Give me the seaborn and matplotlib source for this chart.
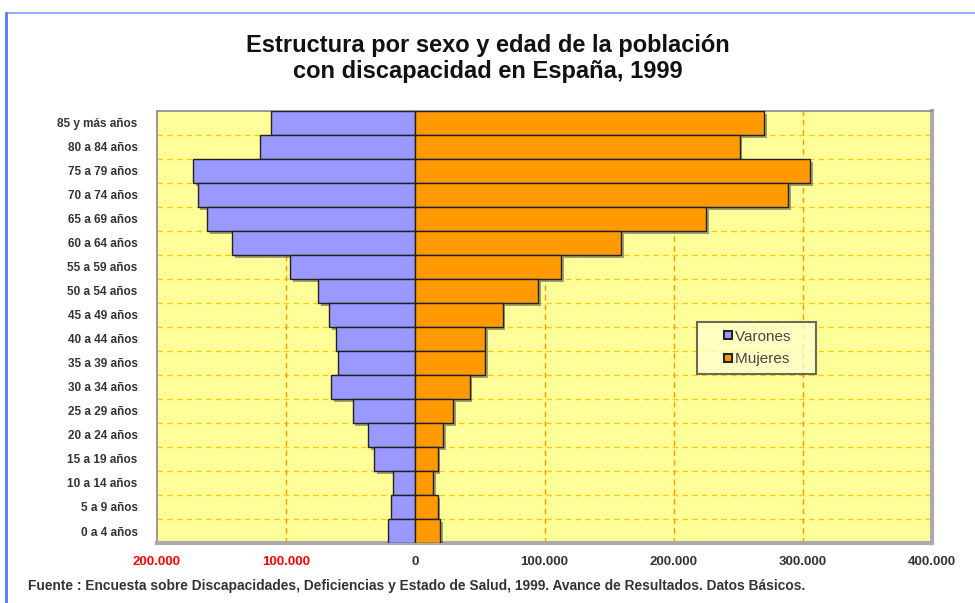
import numpy as np
import pandas as pd
import matplotlib
matplotlib.use("Agg")
import matplotlib.pyplot as plt
import matplotlib.patheffects as pe
from matplotlib.lines import Line2D
import seaborn as sns

# Age groups, top to bottom
edades = ["85 y más años", "80 a 84 años", "75 a 79 años", "70 a 74 años",
          "65 a 69 años", "60 a 64 años", "55 a 59 años", "50 a 54 años",
          "45 a 49 años", "40 a 44 años", "35 a 39 años", "30 a 34 años",
          "25 a 29 años", "20 a 24 años", "15 a 19 años", "10 a 14 años",
          "5 a 9 años", "0 a 4 años"]
varones = [112000, 120000, 172000, 168500, 161000, 142000, 97000, 75000,
           66500, 61500, 60000, 65000, 48500, 36700, 31800, 17500, 18500, 21500]
mujeres = [270000, 251000, 305500, 288500, 225000, 159500, 113000, 95000,
           67500, 54000, 54000, 42000, 29000, 21200, 17300, 14000, 17300, 19000]
xticks = [-200000, -100000, 0, 100000, 200000, 300000, 400000]
xlabels = ["200.000", "100.000", "0", "100.000", "200.000", "300.000", "400.000"]

df = pd.DataFrame({"edad": edades,
                   "Varones": -np.array(varones),
                   "Mujeres": np.array(mujeres)})

sns.set_style("white")
plt.rcParams["font.family"] = ["Liberation Sans", "DejaVu Sans"]

fig = plt.figure(figsize=(9.75, 6.03), dpi=100)
ax = fig.add_axes([0.161, 0.0995, 0.795, 0.7165])
ax.set_facecolor("#FFFF99")

shadow = [pe.SimplePatchShadow(offset=(2, -2), shadow_rgbFace="#444444", alpha=0.5),
          pe.Normal()]

sns.barplot(data=df, x="Varones", y="edad", color="#9999FF", saturation=1,
            width=1.0, edgecolor="#222222", linewidth=1.0, ax=ax, zorder=3)
sns.barplot(data=df, x="Mujeres", y="edad", color="#FF9900", saturation=1,
            width=1.0, edgecolor="#222222", linewidth=1.0, ax=ax, zorder=3)
for p in ax.patches:
    p.set_path_effects(shadow)

n = len(edades)
ax.set_ylim(n - 0.5, -0.5)
ax.set_xlim(-200000, 400000)

# grid lines
for k in range(n - 1):
    ax.axhline(k + 0.5, color="#FFCC00", lw=1.0, ls=(0, (4, 3)), zorder=1)
for xv in [-100000, 100000, 200000, 300000]:
    ax.axvline(xv, color="#FF9900", lw=1.0, ls=(0, (4, 3)), zorder=1)

ax.set_xticks(xticks)
ax.set_xticklabels(xlabels, fontsize=9.5, fontweight="bold")
for lab, v in zip(ax.get_xticklabels(), xticks):
    lab.set_color("red" if v < 0 else "#333333")
ax.tick_params(axis="x", length=3, width=1, color="#222222", pad=6, direction="out")
ax.tick_params(axis="y", length=0, pad=14, labelsize=8.5, labelcolor="#333333")
for lab in ax.get_yticklabels():
    lab.set_fontweight("bold")
ax.set_xlabel("")
ax.set_ylabel("")

for s in ["left", "top"]:
    ax.spines[s].set_color("#888888")
    ax.spines[s].set_linewidth(1.2)
for s in ["right", "bottom"]:
    ax.spines[s].set_color("#AAAAAA")
    ax.spines[s].set_linewidth(3)

handles = [Line2D([], [], ls="none", marker="s", markersize=6, markerfacecolor="#9999FF",
                  markeredgecolor="#222222", markeredgewidth=1.5, label="Varones    "),
           Line2D([], [], ls="none", marker="s", markersize=6, markerfacecolor="#FF9900",
                  markeredgecolor="#222222", markeredgewidth=1.5, label="Mujeres    ")]
leg = ax.legend(handles=handles, loc="upper left", bbox_to_anchor=(0.697, 0.5116),
                frameon=True, fancybox=False, fontsize=11, handlelength=3.0,
                handletextpad=-1.0, labelspacing=0.57, borderpad=0.5,
                borderaxespad=0)
leg.get_frame().set_facecolor("#FFFFCC")
leg.get_frame().set_edgecolor("#444444")
leg.get_frame().set_linewidth(1.5)
for t in leg.get_texts():
    t.set_color("#444444")

fig.text(0.5, 0.903, "Estructura por sexo y edad de la población\ncon discapacidad en España, 1999",
         ha="center", va="center", fontsize=17, fontweight="bold", color="#111111",
         linespacing=1.2)
fig.text(0.029, 0.029, "Fuente : Encuesta sobre Discapacidades, Deficiencias y Estado de Salud, 1999. "
         "Avance de Resultados. Datos Básicos.", ha="left", va="center", fontsize=9.9,
         fontweight="bold", color="#333333")

# light blue frame of the chart object
fig.add_artist(Line2D([0.006, 1.0], [0.979, 0.979], color="#99AAFF", lw=1.5))
fig.add_artist(Line2D([0.006, 0.006], [0.0, 0.979], color="#5577FF", lw=2))

fig.savefig("out.png", dpi=100)
